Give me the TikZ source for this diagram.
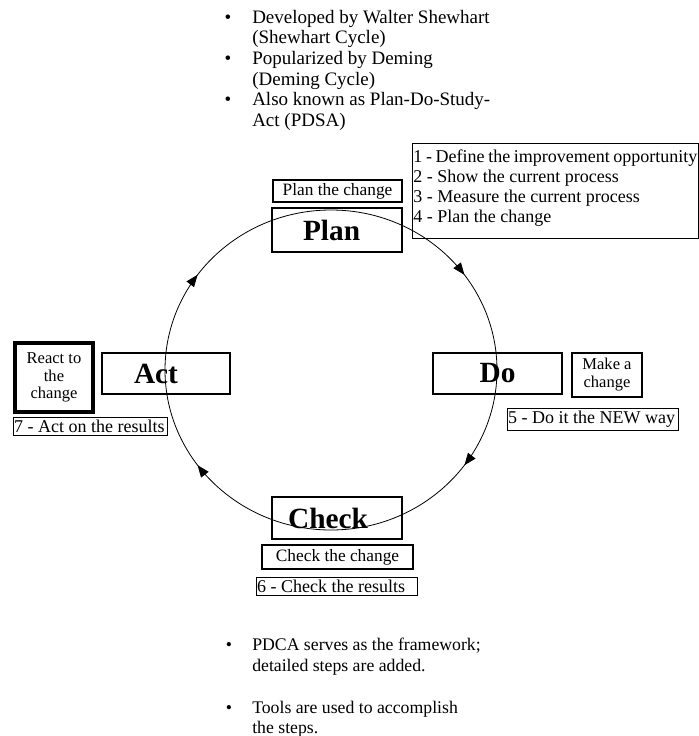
\documentclass[tikz,border=0pt]{standalone}
\usepackage{fontspec}
\setmainfont{Liberation Serif}
\usetikzlibrary{arrows.meta,decorations.markings}
\tikzset{
  stagebox/.style={draw,line width=1.1pt,inner sep=0pt,font=\fontsize{22}{24}\selectfont\bfseries},
  taskbox/.style={draw,line width=1.9pt,inner sep=0pt,align=center},
  stepbox/.style={draw,line width=0.6pt,anchor=west,inner xsep=0.6pt,inner ysep=0pt,font=\fontsize{13.5}{15}\selectfont},
  notetext/.style={anchor=base west,inner sep=0pt},
  notedot/.style={anchor=base,inner sep=0pt},
  cycletip/.style={decoration={markings,
      mark=at position 0.15 with {\arrow{Triangle[length=9pt,width=7pt]}},
      mark=at position 0.35 with {\arrow{Triangle[length=9pt,width=7pt]}},
      mark=at position 0.65 with {\arrow{Triangle[length=9pt,width=7pt]}},
      mark=at position 0.85 with {\arrow{Triangle[length=9pt,width=7pt]}}},
    postaction={decorate}},
}
\newcommand{\stepline}[2]{\makebox[#1][l]{#2}}

\begin{document}
\begin{tikzpicture}[x=0.75pt,y=0.75pt]
  \useasboundingbox (0,0) rectangle (699,-736);
  % the cycle
  \draw[line width=0.6pt,cycletip] (331,-210)
    arc[start angle=90,end angle=-270,x radius=124.5pt,y radius=120pt];
  % notes on top
  \foreach \t [count=\i] in {Developed by Walter Shewhart,(Shewhart Cycle),
      Popularized by Deming,(Deming Cycle),Also known as Plan-Do-Study-,Act (PDSA)}
    \node[notetext,font=\fontsize{14.25}{15}\selectfont] (top\i) at (252,{-2.6-20.6*\i}) {\t};
  \foreach \i in {1,3,5}
    \node[notedot,font=\fontsize{14.25}{15}\selectfont] (topdot\i) at (228,{-2.6-20.6*\i}) {\textbullet};
  % plan
  \node[stagebox,minimum width=97.5pt,minimum height=33pt] (plan) at (337,-230) {Plan\hspace*{8.2pt}};
  \node[taskbox,minimum width=96.75pt,minimum height=16.5pt,font=\fontsize{13}{13}\selectfont] (plantask) at (337.5,-191) {Plan the change};
  \node[draw,line width=0.6pt,anchor=north west,inner xsep=0.8pt,inner ysep=0pt,font=\fontsize{13.5}{15}\selectfont] (plansteps) at (412,-143)
    {\parbox[t][71.25pt][t]{213pt}{\vspace*{4.5pt}1 - Define the improvement opportunity\\
      2 - Show the current process\\
      3 - Measure the current process\\
      4 - Plan the change}};
  % do
  \node[stagebox,minimum width=96.75pt,minimum height=30.75pt] (do) at (497.5,-373.5) {Do};
  \node[taskbox,minimum width=52.5pt,minimum height=33pt,font=\fontsize{12.4}{13.5}\selectfont] (dotask) at (607,-375) {Make a\\change};
  \node[stepbox,minimum height=16.5pt] (dostep) at (507,-419) {\stepline{127pt}{5 - Do it the NEW way}};
  % check
  \node[stagebox,minimum width=97.5pt,minimum height=31.5pt] (check) at (337,-518) {Check\hspace*{13.5pt}};
  \node[taskbox,minimum width=113.25pt,minimum height=18pt,font=\fontsize{13}{13}\selectfont] (checktask) at (337.5,-557) {Check the change};
  \node[stepbox,minimum height=13.5pt] (checkstep) at (256,-586) {\stepline{119.5pt}{6 - Check the results}};
  % act
  \node[stagebox,minimum width=96pt,minimum height=30.75pt] (act) at (166,-373.5) {Act\hspace*{15pt}};
  \node[taskbox,line width=2.4pt,minimum width=58.5pt,minimum height=51.75pt,font=\fontsize{12.4}{13}\selectfont] (acttask) at (54,-377.5) {React to\\the\\change};
  \node[stepbox,minimum height=13.5pt] (actstep) at (13,-426) {\stepline{114.3pt}{7 - Act on the results}};
  % notes below
  \node[notetext,font=\fontsize{13.3}{15}\selectfont] (low1) at (252,-650) {PDCA serves as the framework;};
  \node[notetext,font=\fontsize{13.3}{15}\selectfont] (low2) at (252,-671) {detailed steps are added.};
  \node[notetext,font=\fontsize{13.3}{15}\selectfont] (low3) at (252,-713) {Tools are used to accomplish};
  \node[notetext,font=\fontsize{13.3}{15}\selectfont] (low4) at (252,-733) {the steps.};
  \node[notedot,font=\fontsize{13.3}{15}\selectfont] (lowdot1) at (229,-650) {\textbullet};
  \node[notedot,font=\fontsize{13.3}{15}\selectfont] (lowdot3) at (229,-713) {\textbullet};
\end{tikzpicture}
\end{document}
